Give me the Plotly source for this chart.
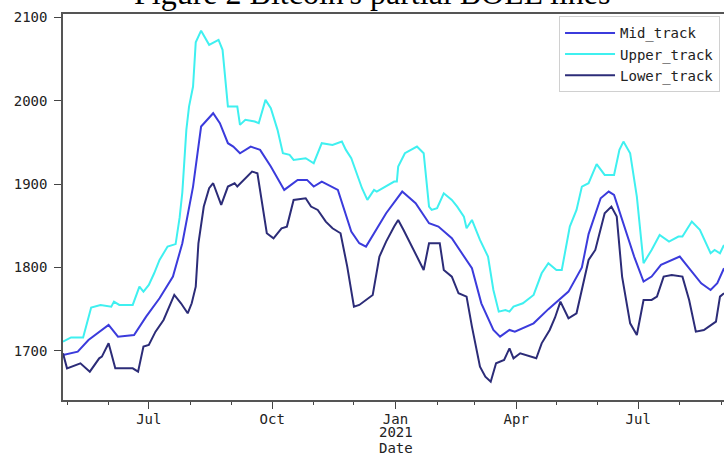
import plotly.graph_objects as go

# Bollinger band tracks (daily closes smoothed), sampled at turning points
upper_dates = ["2020-04-28", "2020-05-04", "2020-05-13", "2020-05-19", "2020-05-26", "2020-06-03",
               "2020-06-05", "2020-06-09", "2020-06-19", "2020-06-24", "2020-06-27", "2020-07-01",
               "2020-07-05", "2020-07-09", "2020-07-15", "2020-07-21", "2020-07-24", "2020-07-26",
               "2020-07-29", "2020-07-31", "2020-08-03", "2020-08-05", "2020-08-09", "2020-08-15",
               "2020-08-22", "2020-08-25", "2020-08-29", "2020-09-05", "2020-09-07", "2020-09-11",
               "2020-09-18", "2020-09-21", "2020-09-26", "2020-09-30", "2020-10-05", "2020-10-09",
               "2020-10-14", "2020-10-17", "2020-10-26", "2020-11-01", "2020-11-07", "2020-11-15",
               "2020-11-22", "2020-11-25", "2020-11-29", "2020-12-02", "2020-12-07", "2020-12-11",
               "2020-12-16", "2020-12-18", "2020-12-25", "2020-12-31", "2021-01-02", "2021-01-03",
               "2021-01-08", "2021-01-17", "2021-01-22", "2021-01-26", "2021-01-28", "2021-02-01",
               "2021-02-06", "2021-02-12", "2021-02-16", "2021-02-21", "2021-02-23", "2021-02-27",
               "2021-03-05", "2021-03-11", "2021-03-15", "2021-03-19", "2021-03-24", "2021-03-27",
               "2021-03-30", "2021-04-06", "2021-04-14", "2021-04-20", "2021-04-25", "2021-05-01",
               "2021-05-05", "2021-05-11", "2021-05-16", "2021-05-20", "2021-05-25", "2021-05-31",
               "2021-06-06", "2021-06-13", "2021-06-17", "2021-06-20", "2021-06-25", "2021-06-30",
               "2021-07-05", "2021-07-11", "2021-07-17", "2021-07-24", "2021-07-31", "2021-08-03",
               "2021-08-10", "2021-08-16", "2021-08-24", "2021-08-27", "2021-08-31", "2021-09-03"]
upper_track = [1711, 1716, 1716, 1752, 1755, 1753,
               1759, 1755, 1755, 1777, 1771, 1779,
               1793, 1809, 1825, 1828, 1860, 1890,
               1965, 1993, 2017, 2070, 2084, 2067,
               2073, 2061, 1993, 1993, 1971, 1977,
               1975, 1973, 2001, 1991, 1965, 1937,
               1935, 1929, 1931, 1925, 1949, 1947,
               1951, 1941, 1931, 1917, 1895, 1881,
               1893, 1891, 1897, 1903, 1903, 1921,
               1937, 1945, 1937, 1873, 1869, 1871,
               1889, 1881, 1873, 1861, 1847, 1857,
               1833, 1813, 1773, 1747, 1749, 1747,
               1753, 1757, 1767, 1793, 1805, 1797,
               1797, 1849, 1869, 1897, 1901, 1924,
               1911, 1911, 1941, 1951, 1937, 1885,
               1805, 1821, 1839, 1831, 1837, 1837,
               1855, 1845, 1817, 1821, 1817, 1827]

mid_dates = ["2020-04-28", "2020-05-09", "2020-05-17", "2020-05-25", "2020-06-01", "2020-06-08",
             "2020-06-20", "2020-06-29", "2020-07-09", "2020-07-19", "2020-07-26", "2020-08-03",
             "2020-08-09", "2020-08-18", "2020-08-23", "2020-08-29", "2020-09-02", "2020-09-07",
             "2020-09-15", "2020-09-22", "2020-09-30", "2020-10-10", "2020-10-20", "2020-10-27",
             "2020-11-01", "2020-11-07", "2020-11-19", "2020-11-29", "2020-12-05", "2020-12-10",
             "2020-12-18", "2020-12-25", "2021-01-06", "2021-01-16", "2021-01-26", "2021-02-02",
             "2021-02-12", "2021-02-22", "2021-02-27", "2021-03-06", "2021-03-15", "2021-03-20",
             "2021-03-27", "2021-03-31", "2021-04-14", "2021-04-25", "2021-05-10", "2021-05-20",
             "2021-05-25", "2021-06-03", "2021-06-09", "2021-06-13", "2021-06-21", "2021-06-28",
             "2021-07-05", "2021-07-11", "2021-07-18", "2021-07-26", "2021-08-01", "2021-08-07",
             "2021-08-17", "2021-08-24", "2021-08-29", "2021-09-03"]
mid_track = [1695, 1699, 1713, 1723, 1731, 1717,
             1719, 1741, 1763, 1789, 1829, 1897,
             1969, 1985, 1973, 1949, 1945, 1937,
             1945, 1941, 1921, 1893, 1905, 1905,
             1897, 1903, 1893, 1843, 1829, 1825,
             1847, 1865, 1891, 1877, 1853, 1849,
             1835, 1811, 1799, 1757, 1725, 1717,
             1725, 1723, 1733, 1750, 1771, 1800,
             1840, 1883, 1891, 1887, 1849, 1813,
             1783, 1789, 1803, 1809, 1813, 1801,
             1781, 1773, 1781, 1799]

lower_dates = ["2020-04-28", "2020-05-01", "2020-05-11", "2020-05-18", "2020-05-25", "2020-05-27",
               "2020-06-01", "2020-06-06", "2020-06-19", "2020-06-23", "2020-06-27", "2020-07-01",
               "2020-07-06", "2020-07-12", "2020-07-20", "2020-07-25", "2020-07-30", "2020-08-02",
               "2020-08-05", "2020-08-07", "2020-08-11", "2020-08-15", "2020-08-18", "2020-08-24",
               "2020-08-29", "2020-09-03", "2020-09-05", "2020-09-11", "2020-09-16", "2020-09-20",
               "2020-09-25", "2020-09-27", "2020-10-02", "2020-10-08", "2020-10-12", "2020-10-17",
               "2020-10-26", "2020-10-30", "2020-11-04", "2020-11-10", "2020-11-15", "2020-11-21",
               "2020-11-26", "2020-12-01", "2020-12-05", "2020-12-15", "2020-12-20", "2020-12-25",
               "2020-12-31", "2021-01-03", "2021-01-07", "2021-01-17", "2021-01-22", "2021-01-26",
               "2021-02-03", "2021-02-06", "2021-02-12", "2021-02-17", "2021-02-23", "2021-02-27",
               "2021-03-05", "2021-03-09", "2021-03-13", "2021-03-17", "2021-03-23", "2021-03-27",
               "2021-03-30", "2021-04-04", "2021-04-16", "2021-04-20", "2021-04-26", "2021-04-30",
               "2021-05-04", "2021-05-10", "2021-05-16", "2021-05-25", "2021-05-30", "2021-06-06",
               "2021-06-11", "2021-06-15", "2021-06-19", "2021-06-25", "2021-06-30", "2021-07-05",
               "2021-07-11", "2021-07-15", "2021-07-20", "2021-07-26", "2021-08-03", "2021-08-08",
               "2021-08-13", "2021-08-19", "2021-08-28", "2021-08-31", "2021-09-03"]
lower_track = [1697, 1679, 1685, 1675, 1691, 1693,
               1709, 1679, 1679, 1675, 1705, 1707,
               1723, 1737, 1767, 1757, 1745, 1757,
               1777, 1829, 1873, 1895, 1901, 1875,
               1897, 1901, 1897, 1907, 1915, 1913,
               1865, 1841, 1835, 1847, 1849, 1881,
               1883, 1873, 1869, 1855, 1847, 1841,
               1801, 1753, 1755, 1767, 1813, 1831,
               1849, 1857, 1845, 1813, 1797, 1829,
               1829, 1797, 1789, 1769, 1765, 1729,
               1681, 1669, 1663, 1685, 1689, 1703,
               1691, 1697, 1691, 1709, 1725, 1740,
               1759, 1739, 1745, 1809, 1821, 1865,
               1873, 1861, 1789, 1733, 1719, 1761,
               1761, 1765, 1789, 1791, 1789, 1761,
               1723, 1725, 1735, 1765, 1769]

tick_dates = ["2020-07-01", "2020-10-01", "2021-01-01", "2021-04-01", "2021-07-01"]
tick_labels = ["Jul", "Oct", "Jan", "Apr", "Jul"]
year_tick = "2021-01-01"
year_label = "2021"
y_ticks = [1700, 1800, 1900, 2000, 2100]

MONO = "DejaVu Sans Mono"

fig = go.Figure()
fig.add_trace(go.Scatter(x=mid_dates, y=mid_track, mode="lines", name="Mid_track",
                         line=dict(color="#3b3bdc", width=2)))
fig.add_trace(go.Scatter(x=upper_dates, y=upper_track, mode="lines", name="Upper_track",
                         line=dict(color="#3ff0f0", width=2)))
fig.add_trace(go.Scatter(x=lower_dates, y=lower_track, mode="lines", name="Lower_track",
                         line=dict(color="#2c2c78", width=2)))

fig.update_layout(
    width=724, height=453,
    margin=dict(l=63, r=0, t=14, b=53),
    paper_bgcolor="white", plot_bgcolor="white",
    showlegend=True,
    legend=dict(x=0.994, y=0.994, xanchor="right", yanchor="top",
                itemwidth=50,
                bgcolor="white", bordercolor="#d0d0d0", borderwidth=1,
                font=dict(family=MONO, size=14, color="#222")),
    xaxis=dict(type="date", range=["2020-04-28", "2021-09-03"], automargin=False,
               tickvals=tick_dates, ticktext=tick_labels,
               ticks="outside", ticklen=7, tickwidth=1.2, tickcolor="#444",
               ticklabelstandoff=-2,
               minor=dict(dtick="M1", tick0="2020-05-01", ticks="outside", ticklen=3,
                          tickcolor="#444", showgrid=False),
               showline=True, linecolor="#555", linewidth=1.5, mirror=True,
               showgrid=False, zeroline=False,
               tickfont=dict(family=MONO, size=14, color="#222")),
    yaxis=dict(range=[1641, 2104], tickvals=y_ticks, automargin=False,
               ticks="outside", ticklen=7, tickwidth=1.2, tickcolor="#444",
               ticklabelstandoff=4,
               showline=True, linecolor="#555", linewidth=1.5,
               showgrid=False, zeroline=False,
               tickfont=dict(family=MONO, size=14, color="#222")),
)

# year line under the January tick, then the axis name
fig.add_annotation(text=year_label, x=year_tick, xref="x", yref="paper", y=0,
                   yshift=-32, xanchor="center", yanchor="middle", showarrow=False,
                   font=dict(family=MONO, size=14, color="#222"))
fig.add_annotation(text="Date", x=year_tick, xref="x", yref="paper", y=0,
                   yshift=-48, xanchor="center", yanchor="middle", showarrow=False,
                   font=dict(family=MONO, size=14, color="#222"))

fig.add_annotation(text="Figure 2 Bitcoin's partial BOLL lines",
                   xref="paper", yref="paper", x=0.4675, y=1.0544,
                   xanchor="center", yanchor="middle", showarrow=False,
                   font=dict(family="Liberation Serif", size=32, color="black"))

fig.write_html("out.html")
